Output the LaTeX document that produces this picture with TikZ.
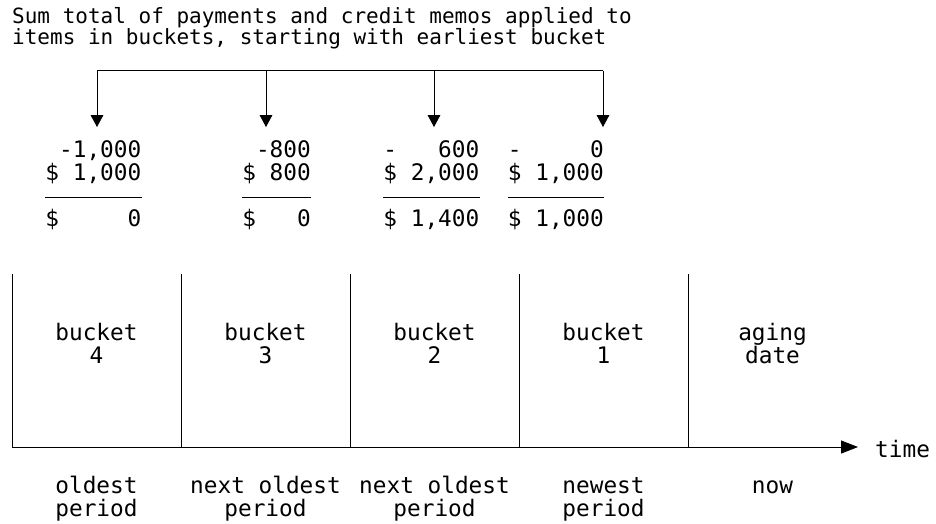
\documentclass[tikz,border=0pt]{standalone}
\usepackage{fontspec}
\setmonofont{DejaVu Sans Mono}
\usetikzlibrary{arrows.meta}
% one column of amounts: name, right edge, two lines, result
\newcommand{\amounts}[5]{
  \node[amt,anchor=base east] (#1) at (#2,180) {#3\\#4};
  \node[amt,anchor=base east] (#1r) at (#2,226) {#5};
  \draw[line width=0.9pt] ([yshift=29pt]#1r.base west) -- ([yshift=29pt]#1r.base east);
}

\begin{document}
\begin{tikzpicture}[x=1pt,y=-1pt,
    every node/.style={inner sep=0pt,font=\ttfamily\fontsize{22.75}{22.5}\selectfont},
    amt/.style={align=right},
    lbl/.style={align=center,anchor=base},
    drop/.style={line width=0.9pt,-{Triangle[length=12pt,width=12.7pt]}},
    axis/.style={line width=0.9pt,-{Triangle[length=17pt,width=13pt]}}]
  \useasboundingbox (0,0) rectangle (936,523);
  \node[anchor=base west,align=left,font=\ttfamily\fontsize{21}{18}\selectfont] (title) at (12,44.5)
    {Sum total of payments and credit memos applied to\\items in buckets, starting with earliest bucket};
  \foreach \x [count=\i] in {97,266,434,603}{
    \coordinate (s\i) at (\x,70.7);
    \coordinate (e\i) at (\x,127);
    \draw[drop] (s\i) -- (e\i);
  }
  \draw[line width=0.9pt] (s1) -- (s4);
  \amounts{a4}{141.5}{-1,000}{\$\hphantom{0}1,000}{\$\hphantom{00000}0}
  \amounts{a3}{311}{-800}{\$\hphantom{0}800}{\$\hphantom{000}0}
  \amounts{a2}{479.5}{-\hphantom{000}600}{\$\hphantom{0}2,000}{\$\hphantom{0}1,400}
  \amounts{a1}{604}{-\hphantom{00000}0}{\$\hphantom{0}1,000}{\$\hphantom{0}1,000}
  % time line and buckets
  \coordinate (t0) at (12,447);
  \coordinate (t1) at (858,447);
  \foreach \x in {12,181,350,519,688}
    \draw[line width=0.9pt] (\x,274) -- (\x,447);
  \draw[axis] (t0) -- (t1);
  \node[anchor=base west] (time) at (875,457) {time};
  \foreach \txt [count=\i] in {{bucket\\4},{bucket\\3},{bucket\\2},{bucket\\1},{aging\\date}}
    \node[lbl] (b\i) at ({96.5+169*(\i-1)},363) {\txt};
  \foreach \txt [count=\i] in {{oldest\\period},{next oldest\\period},{next oldest\\period},{newest\\period}}
    \node[lbl] (p\i) at ({96.5+169*(\i-1)},516) {\txt};
  \node[lbl] (p5) at (772.5,493) {now};
\end{tikzpicture}
\end{document}
